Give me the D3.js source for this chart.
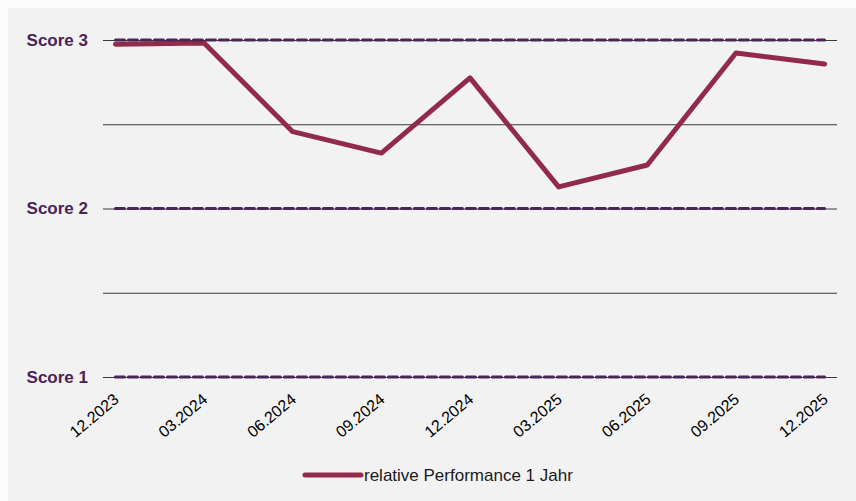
<!DOCTYPE html>
<html>
<head>
<meta charset="utf-8">
<script src="https://cdn.jsdelivr.net/npm/d3@7.9.0/dist/d3.min.js"></script>
<style>
  body { margin: 0; background: #fbfbfb; }
  svg { display: block; font-family: "Liberation Sans", Arial, sans-serif; }
</style>
</head>
<body>
<script>
// chart data
const quarters = ["12.2023", "03.2024", "06.2024", "09.2024", "12.2024", "03.2025", "06.2025", "09.2025", "12.2025"];
const performance = [2.975, 2.982, 2.456, 2.329, 2.775, 2.128, 2.258, 2.923, 2.858];
const scoreLevels = [1, 2, 3];
const scoreLabels = ["Score 1", "Score 2", "Score 3"];
const gridValues = [1, 1.5, 2, 2.5, 3];
const seriesName = "relative Performance 1 Jahr";

const W = 856, H = 501;
const margin = { top: 40, right: 19, bottom: 124, left: 103 };
const width = W - margin.left - margin.right;
const height = H - margin.top - margin.bottom;

const svg = d3.select("body").append("svg")
    .attr("width", W)
    .attr("height", H);

// grey panel
svg.append("rect")
    .attr("x", 8).attr("y", 8)
    .attr("width", W - 8).attr("height", H - 8)
    .attr("fill", "#f2f2f2");

const g = svg.append("g")
    .attr("transform", `translate(${margin.left},${margin.top})`);

// scales
const x = d3.scalePoint()
    .domain(quarters)
    .range([0, width])
    .padding(0.14);

const y = d3.scaleLinear()
    .domain([1, 3])
    .range([height, 0]);

// gridlines
g.append("g")
    .call(d3.axisLeft(y).tickValues(gridValues).tickSize(-width).tickFormat(""))
    .call(a => a.select(".domain").remove())
    .call(a => a.selectAll("line").attr("stroke", "#3a3a3a").attr("stroke-width", 1));

// y labels
g.append("g")
    .call(d3.axisLeft(y).tickValues(scoreLevels).tickSize(0).tickPadding(15)
        .tickFormat((d, i) => scoreLabels[i]))
    .call(a => a.select(".domain").remove())
    .call(a => a.selectAll("text")
        .attr("fill", "#4a2356")
        .style("font-size", "17px")
        .style("font-weight", "bold")
        .style("font-family", "'Liberation Sans', Arial, sans-serif"));

// x labels
g.append("g")
    .attr("transform", `translate(0,${height})`)
    .call(d3.axisBottom(x).tickSize(0).tickPadding(0))
    .call(a => a.select(".domain").remove())
    .call(a => a.selectAll("text")
        .attr("fill", "#000")
        .attr("text-anchor", "end")
        .attr("dy", 0)
        .attr("y", 0)
        .attr("transform", "translate(4,24) rotate(-40)")
        .style("font-size", "16px")
        .style("font-family", "'Liberation Sans', Arial, sans-serif"));

// performance line
const line = d3.line()
    .x((d, i) => x(quarters[i]))
    .y(d => y(d));

g.append("path")
    .datum(performance)
    .attr("fill", "none")
    .attr("stroke", "#922a4b")
    .attr("stroke-width", 5)
    .attr("stroke-linejoin", "round")
    .attr("stroke-linecap", "round")
    .attr("d", line);

// dashed score lines
g.selectAll(".score")
    .data(scoreLevels)
    .enter().append("line")
    .attr("class", "score")
    .attr("x1", x(quarters[0]))
    .attr("x2", x(quarters[quarters.length - 1]))
    .attr("y1", d => y(d))
    .attr("y2", d => y(d))
    .attr("stroke", "#4a2558")
    .attr("stroke-width", 3)
    .attr("stroke-dasharray", "9,4")
    .attr("stroke-linecap", "round");

// legend
const legend = svg.append("g")
    .attr("transform", "translate(305,475)");

legend.append("line")
    .attr("x1", 0).attr("x2", 56)
    .attr("y1", 0).attr("y2", 0)
    .attr("stroke", "#922a4b")
    .attr("stroke-width", 5)
    .attr("stroke-linecap", "round");

legend.append("text")
    .attr("x", 59)
    .attr("y", 6)
    .attr("fill", "#1a1a1a")
    .style("font-size", "17px")
    .text(seriesName);
</script>
</body>
</html>
